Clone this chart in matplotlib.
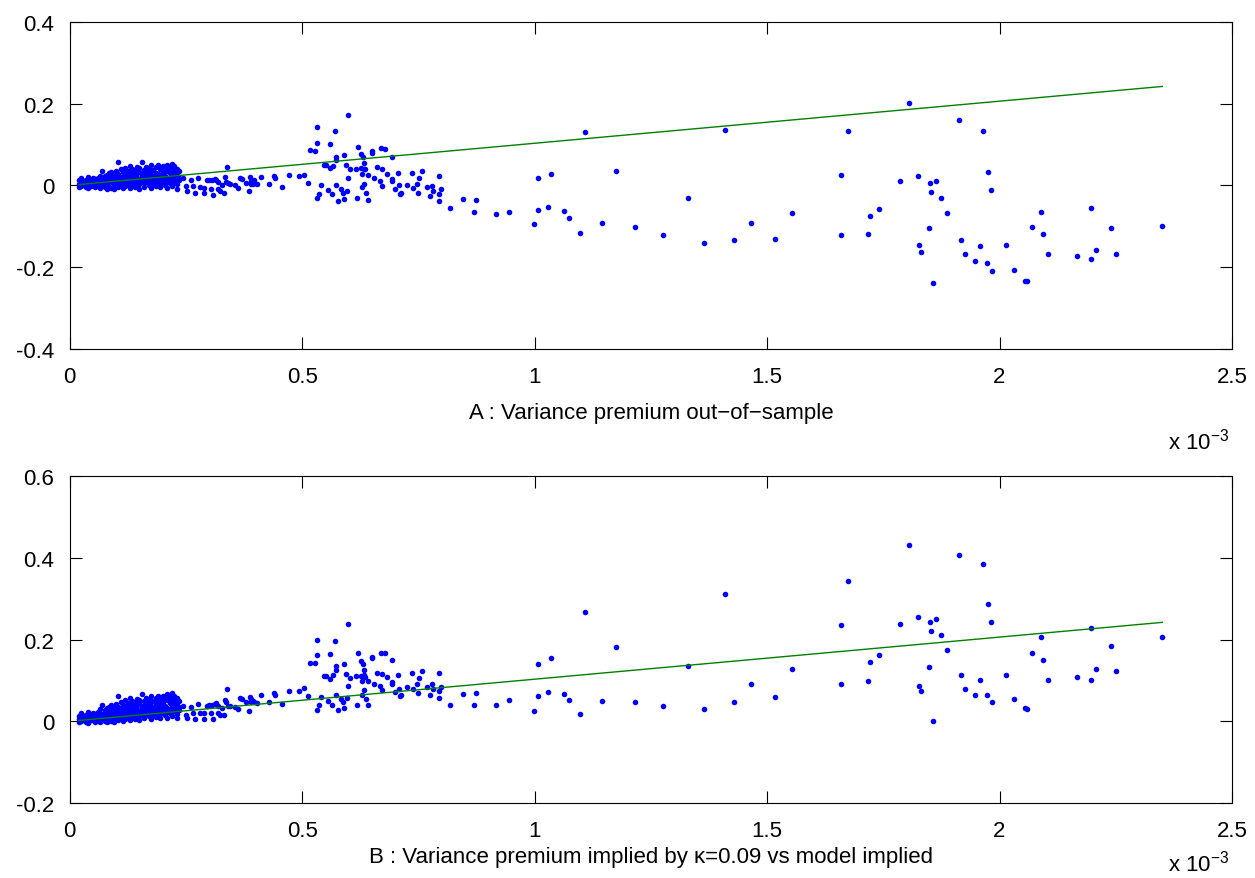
import numpy as np
import matplotlib
matplotlib.use("Agg")
import matplotlib.pyplot as plt
from matplotlib.ticker import FuncFormatter

plt.rcParams['font.family'] = ['Liberation Sans', 'DejaVu Sans']
plt.rcParams['axes.unicode_minus'] = False
plt.rcParams['mathtext.default'] = 'regular'

##### Data (x in units of 1e-3) #####
# dense cluster of small variances
cluster_x = [
    0.020, 0.020, 0.020,
    0.025, 0.025, 0.025,
    0.030, 0.030, 0.030,
    0.035, 0.035, 0.035,
    0.040, 0.040, 0.040, 0.040,
    0.045, 0.045, 0.045,
    0.050, 0.050, 0.050, 0.050,
    0.055, 0.055, 0.055, 0.055,
    0.060, 0.060, 0.060, 0.060,
    0.065, 0.065, 0.065, 0.065,
    0.070, 0.070, 0.070, 0.070,
    0.075, 0.075, 0.075, 0.075,
    0.080, 0.080, 0.080, 0.080,
    0.085, 0.085, 0.085, 0.085,
    0.090, 0.090, 0.090, 0.090, 0.090,
    0.095, 0.095, 0.095, 0.095,
    0.100, 0.100, 0.100, 0.100,
    0.105, 0.105, 0.105, 0.105, 0.105,
    0.110, 0.110, 0.110, 0.110,
    0.115, 0.115, 0.115, 0.115,
    0.120, 0.120, 0.120, 0.120, 0.120,
    0.125, 0.125, 0.125, 0.125,
    0.130, 0.130, 0.130, 0.130,
    0.135, 0.135, 0.135, 0.135, 0.135,
    0.140, 0.140, 0.140, 0.140,
    0.145, 0.145, 0.145, 0.145,
    0.150, 0.150, 0.150, 0.150, 0.150,
    0.155, 0.155, 0.155, 0.155,
    0.160, 0.160, 0.160, 0.160,
    0.165, 0.165, 0.165, 0.165,
    0.170, 0.170, 0.170, 0.170, 0.170,
    0.175, 0.175, 0.175, 0.175,
    0.180, 0.180, 0.180, 0.180,
    0.185, 0.185, 0.185, 0.185,
    0.190, 0.190, 0.190, 0.190,
    0.195, 0.195, 0.195, 0.195, 0.195,
    0.200, 0.200, 0.200, 0.200,
    0.205, 0.205, 0.205, 0.205,
    0.210, 0.210, 0.210, 0.210,
    0.215, 0.215, 0.215, 0.215,
    0.220, 0.220, 0.220, 0.220,
    0.225, 0.225, 0.225, 0.225,
    0.230, 0.230, 0.230, 0.230,
    0.235, 0.235, 0.235,
]
cluster_a = [
    0.004, 0.012, -0.003,
    0.008, -0.002, 0.018,
    0.001, 0.010, 0.006,
    0.014, -0.004, 0.004,
    0.009, 0.002, 0.020, -0.006,
    0.005, 0.013, -0.001,
    0.011, 0.000, 0.017, 0.006,
    0.003, 0.015, -0.005, 0.009,
    0.019, 0.007, -0.002, 0.012,
    0.004, 0.024, 0.010, -0.007,
    0.014, 0.001, 0.034, 0.008,
    0.018, -0.004, 0.006, 0.022,
    0.010, 0.026, 0.002, -0.008,
    0.016, 0.005, 0.029, -0.003,
    0.021, 0.008, -0.006, 0.012, 0.033,
    0.003, 0.018, 0.027, -0.009,
    0.011, 0.035, 0.000, 0.022,
    0.056, 0.015, 0.006, 0.028, -0.005,
    0.019, 0.040, 0.002, 0.010,
    0.032, -0.007, 0.024, 0.013,
    0.007, 0.043, 0.017, -0.002, 0.029,
    0.021, 0.036, 0.004, 0.011,
    0.047, 0.014, -0.006, 0.026,
    0.009, 0.031, 0.002, 0.040, 0.018,
    0.024, -0.004, 0.012, 0.037,
    0.045, 0.006, 0.019, 0.029,
    0.015, 0.033, -0.008, 0.003, 0.042,
    0.056, 0.022, 0.010, 0.027,
    0.005, 0.038, 0.017, -0.003,
    0.030, 0.046, 0.012, 0.023,
    0.001, 0.020, 0.035, 0.008, 0.041,
    0.026, -0.006, 0.014, 0.049,
    0.037, 0.010, 0.022, 0.003,
    0.044, 0.017, -0.002, 0.031,
    0.007, 0.028, 0.050, 0.013,
    0.020, 0.039, -0.005, 0.025, 0.004,
    0.047, 0.011, 0.033, 0.016,
    0.002, 0.024, 0.042, 0.009,
    0.036, 0.018, -0.007, 0.051,
    0.013, 0.029, 0.045, 0.005,
    0.022, -0.002, 0.038, 0.053,
    0.008, 0.031, 0.016, 0.047,
    0.025, 0.003, 0.040, -0.009,
    0.012, 0.034, 0.019,
]
cluster_b = [
    0.005, 0.013, -0.002,
    0.010, 0.000, 0.020,
    0.003, 0.012, 0.008,
    0.016, -0.002, 0.006,
    0.012, 0.005, 0.023, -0.003,
    0.008, 0.016, 0.002,
    0.015, 0.004, 0.021, 0.010,
    0.007, 0.019, -0.001, 0.013,
    0.023, 0.011, 0.002, 0.016,
    0.009, 0.029, 0.015, -0.002,
    0.019, 0.006, 0.039, 0.013,
    0.023, 0.001, 0.011, 0.027,
    0.016, 0.032, 0.008, -0.002,
    0.022, 0.011, 0.035, 0.003,
    0.027, 0.014, 0.000, 0.018, 0.039,
    0.010, 0.025, 0.034, -0.002,
    0.018, 0.042, 0.007, 0.029,
    0.063, 0.022, 0.013, 0.035, 0.002,
    0.027, 0.048, 0.010, 0.018,
    0.040, 0.001, 0.032, 0.021,
    0.015, 0.051, 0.025, 0.006, 0.037,
    0.030, 0.045, 0.013, 0.020,
    0.056, 0.023, 0.003, 0.035,
    0.018, 0.040, 0.011, 0.049, 0.027,
    0.034, 0.006, 0.022, 0.047,
    0.055, 0.016, 0.029, 0.039,
    0.026, 0.044, 0.003, 0.014, 0.053,
    0.067, 0.033, 0.021, 0.038,
    0.016, 0.049, 0.028, 0.008,
    0.042, 0.058, 0.024, 0.035,
    0.013, 0.032, 0.047, 0.020, 0.053,
    0.038, 0.006, 0.026, 0.061,
    0.050, 0.023, 0.035, 0.016,
    0.057, 0.030, 0.011, 0.044,
    0.020, 0.041, 0.063, 0.026,
    0.034, 0.053, 0.009, 0.039, 0.018,
    0.061, 0.025, 0.047, 0.030,
    0.016, 0.038, 0.056, 0.023,
    0.051, 0.033, 0.008, 0.066,
    0.028, 0.044, 0.060, 0.020,
    0.037, 0.013, 0.053, 0.068,
    0.024, 0.047, 0.032, 0.063,
    0.041, 0.019, 0.056, 0.007,
    0.028, 0.050, 0.035,
]

# sparser points at larger variances
tail_x = [
    0.243, 0.250, 0.253, 0.261, 0.266, 0.270, 0.277, 0.280, 0.289, 0.289,
    0.295, 0.300, 0.303, 0.306, 0.308, 0.312, 0.315, 0.318, 0.319, 0.324,
    0.328, 0.331, 0.335, 0.337, 0.339, 0.341, 0.345, 0.356, 0.361, 0.366,
    0.371, 0.379, 0.385, 0.387, 0.389, 0.391, 0.394, 0.397, 0.402, 0.412,
    0.428, 0.440, 0.441, 0.457, 0.471, 0.494, 0.503, 0.512, 0.518, 0.528,
    0.532, 0.532, 0.533, 0.536, 0.541, 0.546, 0.551, 0.556, 0.560, 0.561,
    0.564, 0.567, 0.570, 0.572, 0.573, 0.573, 0.578,
    0.584, 0.587, 0.589, 0.590, 0.594, 0.596, 0.598, 0.599, 0.603, 0.616,
    0.617, 0.621, 0.627, 0.627, 0.628, 0.629, 0.630, 0.632, 0.633, 0.634,
    0.636, 0.637, 0.641, 0.642, 0.650, 0.650, 0.655, 0.660, 0.667, 0.670,
    0.671, 0.671, 0.678, 0.682, 0.693, 0.693, 0.694, 0.700, 0.707, 0.709,
    0.711, 0.713, 0.725, 0.736, 0.739, 0.746, 0.749, 0.752, 0.757, 0.768,
    0.775, 0.779, 0.782, 0.794, 0.795, 0.794, 0.799, 0.817, 0.845, 0.870,
    0.874,
    0.918, 0.944, 0.999, 1.007, 1.007, 1.029, 1.035, 1.064, 1.073, 1.098,
    1.109, 1.144, 1.176, 1.217, 1.277, 1.329, 1.364, 1.410, 1.428, 1.465,
    1.518, 1.554, 1.658, 1.660, 1.675,
    1.717, 1.722, 1.741, 1.785, 1.805, 1.825, 1.826, 1.832, 1.849, 1.850,
    1.853, 1.857, 1.863, 1.875, 1.888, 1.913, 1.916, 1.926, 1.948, 1.958,
    1.965, 1.972, 1.976, 1.982, 1.983, 2.013, 2.031, 2.054, 2.060, 2.069,
    2.090, 2.093, 2.104, 2.167, 2.196, 2.197, 2.208, 2.240, 2.250, 2.350,
]
tail_a = [
    0.019, -0.002, -0.013, 0.013, -0.002, -0.019, 0.018, -0.005, -0.006, -0.019,
    0.013, 0.013, -0.009, 0.013, -0.023, 0.016, 0.013, 0.009, -0.009, -0.015,
    0.001, -0.018, 0.020, 0.009, 0.045, 0.006, 0.004, 0.001, -0.007, 0.019,
    0.016, 0.006, -0.015, 0.021, 0.003, 0.011, 0.004, 0.012, 0.004, 0.021,
    0.003, 0.022, 0.019, -0.005, 0.025, 0.022, 0.026, 0.006, 0.087, 0.084,
    0.143, 0.103, -0.031, -0.021, 0.001, 0.051, 0.051, -0.012, 0.102, 0.043,
    -0.022, 0.047, 0.133, 0.069, 0.001, 0.063, -0.038,
    -0.009, -0.018, 0.074, -0.033, 0.050, -0.015, 0.171, 0.019, 0.041, 0.041,
    -0.031, 0.095, 0.043, 0.076, 0.027, -0.005, 0.069, 0.004, 0.040, 0.055,
    0.039, -0.018, 0.026, -0.035, 0.079, 0.084, 0.018, 0.044, 0.011, 0.091,
    0.039, -0.001, 0.089, 0.028, 0.016, 0.011, 0.069, -0.009, 0.031, 0.000,
    -0.021, -0.019, 0.000, 0.031, -0.007, 0.004, -0.019, 0.018, 0.034, -0.004,
    -0.026, -0.002, -0.013, 0.024, -0.038, -0.022, -0.010, -0.056, -0.033, -0.066,
    -0.035,
    -0.070, -0.064, -0.095, -0.060, 0.018, -0.053, 0.028, -0.063, -0.081, -0.117,
    0.130, -0.092, 0.035, -0.102, -0.122, -0.031, -0.141, 0.136, -0.134, -0.093,
    -0.132, -0.068, -0.121, 0.026, 0.132,
    -0.119, -0.074, -0.059, 0.010, 0.201, 0.022, -0.147, -0.162, -0.104, 0.005,
    -0.017, -0.238, 0.011, -0.031, -0.068, 0.161, -0.133, -0.167, -0.185, -0.149,
    0.133, -0.189, 0.033, -0.012, -0.209, -0.145, -0.208, -0.233, -0.235, -0.101,
    -0.064, -0.120, -0.169, -0.172, -0.181, -0.056, -0.158, -0.104, -0.167, -0.100,
]
tail_b = [
    0.037, 0.015, 0.007, 0.036, 0.020, 0.005, 0.042, 0.020, 0.020, 0.005,
    0.037, 0.039, 0.020, 0.039, 0.005, 0.042, 0.044, 0.037, 0.020, 0.015,
    0.033, 0.015, 0.052, 0.047, 0.078, 0.037, 0.037, 0.036, 0.029, 0.057,
    0.054, 0.046, 0.024, 0.060, 0.046, 0.054, 0.049, 0.046, 0.044, 0.064,
    0.047, 0.068, 0.065, 0.042, 0.075, 0.075, 0.081, 0.062, 0.143, 0.143,
    0.200, 0.161, 0.028, 0.039, 0.060, 0.111, 0.111, 0.049, 0.165, 0.104,
    0.041, 0.112, 0.197, 0.135, 0.065, 0.126, 0.028,
    0.054, 0.047, 0.139, 0.033, 0.116, 0.058, 0.238, 0.086, 0.107, 0.111,
    0.039, 0.166, 0.111, 0.148, 0.099, 0.064, 0.139, 0.077, 0.112, 0.126,
    0.109, 0.055, 0.099, 0.039, 0.154, 0.158, 0.091, 0.119, 0.086, 0.168,
    0.116, 0.076, 0.168, 0.108, 0.095, 0.091, 0.149, 0.072, 0.112, 0.080,
    0.062, 0.064, 0.085, 0.117, 0.080, 0.090, 0.068, 0.106, 0.122, 0.085,
    0.064, 0.090, 0.080, 0.117, 0.057, 0.074, 0.085, 0.040, 0.067, 0.039,
    0.068,
    0.040, 0.051, 0.025, 0.063, 0.141, 0.072, 0.155, 0.067, 0.051, 0.018,
    0.267, 0.049, 0.181, 0.048, 0.037, 0.135, 0.031, 0.312, 0.046, 0.092,
    0.059, 0.129, 0.090, 0.236, 0.343,
    0.099, 0.145, 0.163, 0.238, 0.432, 0.255, 0.086, 0.073, 0.133, 0.242,
    0.221, 0.000, 0.250, 0.210, 0.174, 0.407, 0.112, 0.079, 0.065, 0.102,
    0.386, 0.064, 0.287, 0.244, 0.046, 0.113, 0.054, 0.032, 0.029, 0.166,
    0.205, 0.150, 0.102, 0.108, 0.102, 0.228, 0.128, 0.185, 0.124, 0.205,
]

# fitted line (same in both panels)
fit_x = [0.020, 2.350]
fit_y = [0.002, 0.242]

x_ticks = [0, 0.5, 1, 1.5, 2, 2.5]
yticks_a = [-0.4, -0.2, 0, 0.2, 0.4]
yticks_b = [-0.2, 0, 0.2, 0.4, 0.6]
label_a = 'A : Variance premium out\u2212of\u2212sample'
label_b = 'B : Variance premium implied by \u03ba=0.09 vs model implied'


def draw_panel(ax, yvals, yticks, xlabel, labelpad, exp_y):
    xs = np.array(cluster_x + tail_x) * 1e-3
    ax.plot(xs, yvals, linestyle='none', marker='o', markersize=4.0,
            markeredgewidth=0, color=(0, 0, 1))
    ax.plot(np.array(fit_x) * 1e-3, fit_y, color=(0, 0.5, 0), linewidth=1.0)
    ax.set_xlim(0, 2.5e-3)
    ax.set_ylim(yticks[0], yticks[-1])
    ax.set_xticks(np.array(x_ticks) * 1e-3)
    ax.set_yticks(yticks)
    ax.xaxis.set_major_formatter(FuncFormatter(lambda v, p: '%g' % round(v * 1e3, 3)))
    ax.yaxis.set_major_formatter(FuncFormatter(lambda v, p: '%g' % (round(v, 3) + 0.0)))
    ax.tick_params(direction='in', top=True, right=True, length=8.4, width=0.8,
                   labelsize=16)
    ax.tick_params(axis='x', pad=12)
    ax.tick_params(axis='y', pad=11)
    for s in ax.spines.values():
        s.set_linewidth(0.8)
    ax.set_xlabel(xlabel, fontsize=16, labelpad=labelpad)
    ax.text(0.945, exp_y, 'x 10$^{-3}$', transform=ax.transAxes,
            ha='left', va='baseline', fontsize=16)


fig = plt.figure(figsize=(12.55, 8.79), dpi=100)
ax1 = fig.add_axes([0.0555, 0.602, 0.9262, 0.372])
ax2 = fig.add_axes([0.0555, 0.0853, 0.9262, 0.372])

draw_panel(ax1, cluster_a + tail_a, yticks_a, label_a, 11, -0.305)
draw_panel(ax2, cluster_b + tail_b, yticks_b, label_b, 4, -0.205)

fig.savefig('out.png', dpi=100)
